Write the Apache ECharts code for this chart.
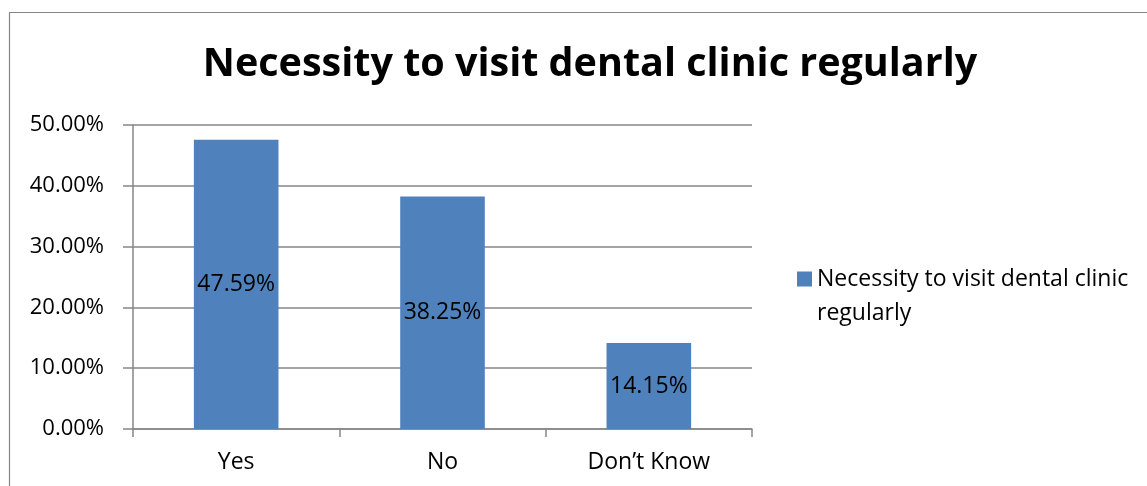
<!DOCTYPE html>
<html>
<head>
<meta charset="utf-8">
<script src="https://cdn.jsdelivr.net/npm/echarts@6/dist/echarts.min.js"></script>
<style>
  html, body { margin: 0; padding: 0; background: #fff; }
  #chart { width: 1147px; height: 486px; }
</style>
</head>
<body>
<div id="chart"></div>
<script>
// Survey answers and their shares (percent)
const categories = ['Yes', 'No', 'Don\u2019t Know'];
const shares = [47.59, 38.25, 14.15];
const seriesName = 'Necessity to visit dental clinic regularly';
const titleText = 'Necessity to visit dental clinic regularly';

const FONT = '"Open Sans", "Liberation Sans", sans-serif';
const AXIS_GRAY = '#868686';
const TEXT_SIZE = 23;

const chart = echarts.init(document.getElementById('chart'), null, { renderer: 'canvas' });

chart.setOption({
  animation: false,
  backgroundColor: '#fff',
  // chart area frame
  graphic: [{
    type: 'rect',
    shape: { x: 9.5, y: 12.5, width: 1200, height: 600 },
    style: { fill: 'none', stroke: AXIS_GRAY, lineWidth: 1.2 },
    silent: true
  }],
  title: {
    text: titleText,
    left: 585,
    textAlign: 'center',
    top: 40,
    textStyle: { fontFamily: FONT, fontSize: 39.5, fontWeight: 'bold', color: '#000' }
  },
  legend: {
    data: [seriesName],
    orient: 'vertical',
    left: 792,
    top: 223,
    itemWidth: 15,
    itemHeight: 15,
    itemGap: 8,
    icon: 'rect',
    // leading blank line keeps the swatch level with the first text line
    formatter: () => '\nNecessity to visit dental clinic\nregularly',
    textStyle: { fontFamily: FONT, fontSize: 23, color: '#000', lineHeight: 34 }
  },
  grid: { left: 133, top: 125, width: 619, height: 304, containLabel: false },
  xAxis: {
    type: 'category',
    data: categories,
    boundaryGap: true,
    axisLine: { lineStyle: { color: AXIS_GRAY, width: 1.5 } },
    axisTick: { show: true, alignWithLabel: false, length: 8, lineStyle: { color: AXIS_GRAY, width: 1.5 } },
    axisLabel: { fontFamily: FONT, fontSize: TEXT_SIZE, color: '#000', margin: 22 }
  },
  yAxis: {
    type: 'value',
    min: 0,
    max: 50,
    interval: 10,
    axisLine: { show: true, lineStyle: { color: AXIS_GRAY, width: 1.5 } },
    axisTick: { show: true, length: 10, lineStyle: { color: AXIS_GRAY, width: 1.5 } },
    splitLine: { lineStyle: { color: AXIS_GRAY, width: 1.5 } },
    axisLabel: {
      fontFamily: FONT, fontSize: 22, color: '#000', margin: 29,
      formatter: v => v.toFixed(2) + '%'
    }
  },
  series: [{
    name: seriesName,
    type: 'bar',
    data: shares,
    barWidth: '41%',
    itemStyle: { color: '#4F81BD' },
    label: {
      show: true,
      position: 'inside',
      fontFamily: FONT, fontSize: TEXT_SIZE, color: '#000',
      formatter: p => p.value.toFixed(2) + '%'
    }
  }]
});
</script>
</body>
</html>
